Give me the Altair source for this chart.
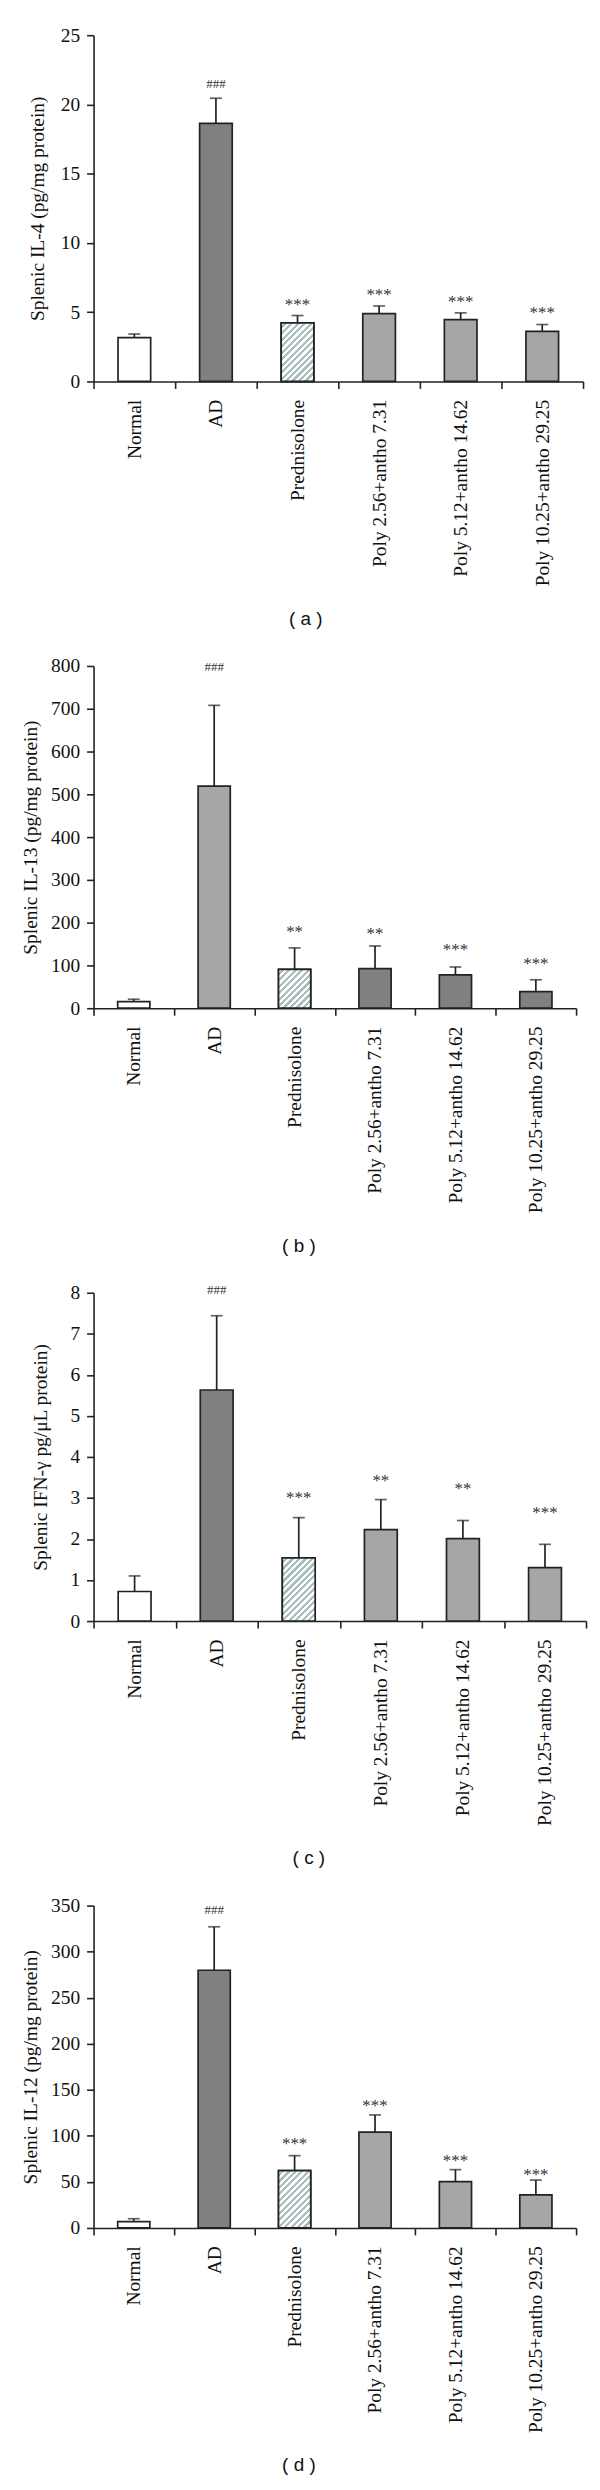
import altair as alt
import pandas as pd

# ---------------- data ----------------
categories = [
    "Normal",
    "AD",
    "Prednisolone",
    "Poly 2.56+antho 7.31",
    "Poly 5.12+antho 14.62",
    "Poly 10.25+antho 29.25",
]

# (a) Splenic IL-4
il4_mean = [3.16, 18.64, 4.23, 4.90, 4.47, 3.61]
il4_top = [3.42, 20.45, 4.76, 5.45, 4.95, 4.11]
il4_sig = ["", "###", "***", "***", "***", "***"]
il4_sig_at = [None, 21.57, 5.84, 6.56, 6.03, 5.24]

# (b) Splenic IL-13
il13_mean = [15.5, 519.0, 90.7, 92.5, 78.0, 38.6]
il13_top = [21.0, 708.0, 141.0, 145.5, 96.4, 66.5]
il13_sig = ["", "###", "**", "**", "***", "***"]
il13_sig_at = [None, 800.0, 187.0, 183.0, 144.6, 113.7]

# (c) Splenic IFN-gamma
ifn_mean = [0.72, 5.63, 1.54, 2.23, 2.01, 1.30]
ifn_top = [1.10, 7.44, 2.52, 2.96, 2.45, 1.87]
ifn_sig = ["", "###", "***", "**", "**", "***"]
ifn_sig_at = [None, 8.1, 3.09, 3.52, 3.32, 2.72]

# (d) Splenic IL-12
il12_mean = [6.8, 279.8, 62.3, 104.0, 50.3, 36.0]
il12_top = [10.0, 327.0, 78.5, 122.7, 63.3, 52.0]
il12_sig = ["", "###", "***", "***", "***", "***"]
il12_sig_at = [None, 346.8, 95.4, 137.0, 77.0, 62.0]

# ---------------- styling ----------------
SERIF = "Liberation Serif"
SANS = "Liberation Sans"
INK = "#222222"
WHITE = "#ffffff"
DARK = "#808080"
LIGHT = "#a6a6a6"
STRIPE = "#a9bebe"
BAR_FRAC = 0.4


def hatch(wpx, hpx, period=6.5):
    """Diagonal '/' stripes as a hard-stop linear gradient (objectBoundingBox)."""
    k = (wpx + hpx) * wpx / (wpx ** 2 + hpx ** 2)
    L = wpx + hpx
    stops = []
    i = 0
    while i * period < L:
        o0 = round(i * period / L, 5)
        o1 = round(min((i + 0.5) * period / L, 1.0), 5)
        o2 = round(min((i + 1) * period / L, 1.0), 5)
        stops += [
            {"offset": o0, "color": WHITE},
            {"offset": o1, "color": WHITE},
            {"offset": o1, "color": STRIPE},
            {"offset": o2, "color": STRIPE},
        ]
        i += 1
    return {"gradient": "linear", "x1": 0, "y1": 0, "x2": k, "y2": k * hpx / wpx, "stops": stops}


def panel(letter, ytitle, mean, top, sig, sig_at, ymax, ystep, w, h, fills, title_pad):
    df = pd.DataFrame({"group": categories, "mean": mean, "top": top, "sig": sig, "sig_at": sig_at})
    df["fill"] = fills

    xenc = alt.X(
        "group:N",
        sort=categories,
        scale=alt.Scale(paddingInner=0, paddingOuter=0),
        axis=alt.Axis(
            title=None, labelAngle=-90, labelAlign="right", labelBaseline="middle",
            labelFont=SERIF, labelFontSize=19.5, labelColor="#111111", labelPadding=11,
            labelLimit=0, tickBand="extent", tickSize=7, tickColor=INK, tickWidth=1.6,
            domainColor=INK, domainWidth=1.6,
        ),
    )
    yscale = alt.Scale(domain=[0, ymax], nice=False, zero=True)
    vals = [i * ystep for i in range(int(round(ymax / ystep)) + 1)]
    yaxis = alt.Axis(
        title=ytitle, values=vals, grid=False, tickSize=7, tickColor=INK, tickWidth=1.6,
        domainColor=INK, domainWidth=1.6, labelFont=SERIF, labelFontSize=19.5,
        labelColor="#111111", labelPadding=7, titleFont=SERIF, titleFontSize=19.5,
        titleFontWeight="normal", titleColor="#111111", titlePadding=title_pad,
    )

    base = alt.Chart(df).encode(x=xenc)
    bars = base.mark_bar(stroke=INK, strokeWidth=1.7, width=alt.RelativeBandSize(BAR_FRAC)).encode(
        y=alt.Y("mean:Q", scale=yscale, axis=yaxis),
        fill=alt.Fill("fill:N", scale=None),
    )
    pred_idx = categories.index("Prednisolone")
    wpx = BAR_FRAC * w / len(categories)
    hpx = mean[pred_idx] / ymax * h
    pred = base.transform_filter(alt.datum.group == "Prednisolone").mark_bar(
        fill=hatch(wpx, hpx), stroke=INK, strokeWidth=1.7, width=alt.RelativeBandSize(BAR_FRAC)
    ).encode(y=alt.Y("mean:Q", scale=yscale, axis=yaxis))
    err = base.mark_rule(color=INK, strokeWidth=1.7).encode(
        y=alt.Y("mean:Q", scale=yscale, axis=yaxis), y2="top:Q"
    )
    cap = base.mark_tick(color=INK, size=12, thickness=1.7).encode(
        y=alt.Y("top:Q", scale=yscale, axis=yaxis)
    )
    stars = base.transform_filter("datum.sig != '' && datum.sig != '###'").mark_text(
        font=SERIF, fontSize=17, baseline="middle", dy=4, color="#333333"
    ).encode(y=alt.Y("sig_at:Q", scale=yscale, axis=yaxis), text="sig:N")
    hashes = base.transform_filter("datum.sig == '###'").mark_text(
        font=SERIF, fontSize=13, baseline="middle", dy=1, color="#333333"
    ).encode(y=alt.Y("sig_at:Q", scale=yscale, axis=yaxis), text="sig:N")

    return alt.layer(bars, pred, err, cap, stars, hashes).properties(
        width=w,
        height=h,
        title=alt.TitleParams(
            text=f"( {letter} )", orient="bottom", anchor="middle", frame="bounds",
            font=SANS, fontSize=19, fontWeight="normal", color="#111111", offset=24,
        ),
    )


fills_a = [WHITE, DARK, WHITE, LIGHT, LIGHT, LIGHT]
fills_b = [WHITE, LIGHT, WHITE, DARK, DARK, DARK]

pa = panel("a", "Splenic IL-4 (pg/mg protein)", il4_mean, il4_top, il4_sig, il4_sig_at,
           25, 5, 492, 348, fills_a, 12.5)
pb = panel("b", "Splenic IL-13 (pg/mg protein)", il13_mean, il13_top, il13_sig, il13_sig_at,
           800, 100, 485, 344, fills_b, 9.75)
pc = panel("c", "Splenic IFN-γ pg/μL protein)", ifn_mean, ifn_top, ifn_sig, ifn_sig_at,
           8, 1, 495, 330, fills_a, 19.25)
pd_ = panel("d", "Splenic IL-12 (pg/mg protein)", il12_mean, il12_top, il12_sig, il12_sig_at,
            350, 50, 485, 324, fills_a, 9.75)

chart = (
    alt.concat(pa, pb, pc, pd_, columns=1, spacing=27, align="none")
    .configure(padding={"left": 13, "top": 11, "right": 5, "bottom": 0}, background="white")
    .configure_view(stroke=None)
)

chart.save("out.html", embed_options={"renderer": "svg", "actions": False})
